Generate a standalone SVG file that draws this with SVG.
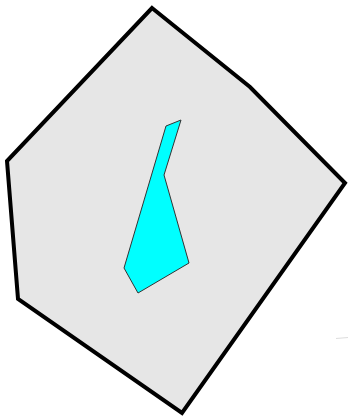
<svg xmlns="http://www.w3.org/2000/svg" width="348" height="419" viewBox="0 0 348 419">
<rect width="348" height="419" fill="#ffffff"/>
<g id="outer">
<polygon points="152,8 250,87 345,183 182,413 18,299 7,161" fill="#e6e6e6" stroke="#000000" stroke-width="4" stroke-linejoin="miter"/>
</g>
<g id="inner">
<polygon points="166,126 181,120 164,175 189,263 138,293 124,268" fill="#00ffff" stroke="#333333" stroke-width="1"/>
</g>
<line x1="336" y1="338.5" x2="348" y2="337.5" stroke="#dddddd" stroke-width="1"/>
</svg>
